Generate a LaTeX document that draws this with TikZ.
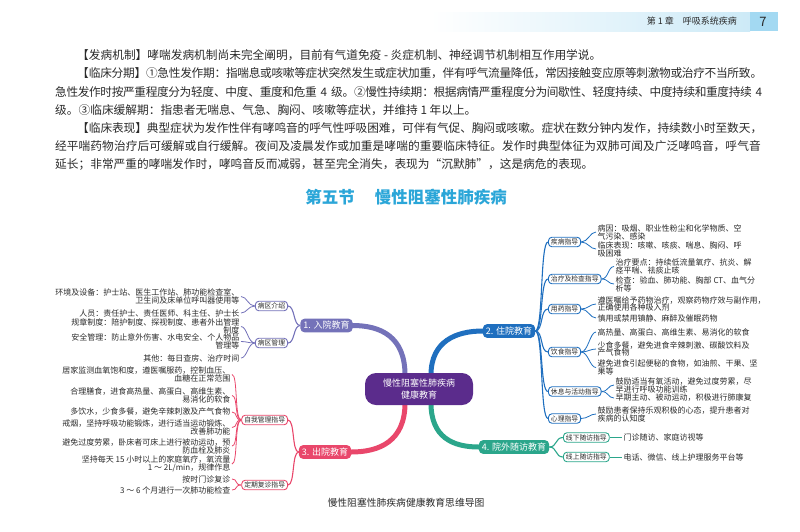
\documentclass[tikz,border=0pt]{standalone}
\usepackage{fontspec}
\setmainfont{Noto Sans CJK SC}
\usetikzlibrary{calc,backgrounds}
\XeTeXlinebreaklocale "zh"
\XeTeXlinebreakskip=0pt plus 1pt minus 0.5pt
\definecolor{cPur}{HTML}{5B2C8C}
\definecolor{cBa}{HTML}{7472B9}
\definecolor{cBb}{HTML}{1F6FBF}
\definecolor{cBc}{HTML}{E9476B}
\definecolor{cBd}{HTML}{2BA68B}
\definecolor{cTitle}{HTML}{2BA6D8}
\definecolor{cText}{HTML}{2A2A2A}
\definecolor{cHead}{HTML}{CDEAF7}
\definecolor{cPage}{HTML}{A3D9F2}
\newcommand\bodyfont{\fontsize{11.7}{14}\selectfont}
\newcommand\leaffont{\fontsize{8}{7.9}\selectfont}
\tikzset{
  bodyline/.style={anchor=west, inner sep=0pt, font=\bodyfont, text=cText},
  branchbox/.style={rounded corners=4pt, fill=#1, text=white, font=\fontsize{9}{10}\selectfont, inner xsep=3pt, inner ysep=2.6pt},
  subbox/.style={rounded corners=3.5pt, draw=#1, line width=0.9pt, fill=white, text=cText, font=\fontsize{6.8}{7}\selectfont, inner xsep=2.5pt, inner ysep=1.6pt},
  leafL/.style={anchor=east, align=right, inner xsep=1.5pt, inner ysep=0.5pt, font=\leaffont, text=cText},
  leafR/.style={anchor=west, align=left, inner xsep=1.5pt, inner ysep=0.5pt, font=\leaffont, text=cText},
  bconn/.style={line width=5pt, draw=#1, line cap=round},
  sconn/.style={line width=1.1pt, draw=#1},
  lconn/.style={line width=0.8pt, draw=#1}
}
\begin{document}
\begin{tikzpicture}[x=1pt,y=-1pt]
\useasboundingbox (0,0) rectangle (800,531);
% header
\shade[left color=white, right color=cHead] (430,12) rectangle (750,31);
\fill[cPage] (750,12) rectangle (778,31);
\node[anchor=east, font=\fontsize{9}{10}\selectfont, text=cText, inner sep=0] (hdr) at (737,21.5) {第 1 章\quad 呼吸系统疾病};
\node[font=\fontsize{13}{14}\selectfont, text=cText, inner sep=0] (pg) at (763,21.5) {7};
% body text
\node[bodyline] (t1) at (77,55.4) {【发病机制】哮喘发病机制尚未完全阐明，目前有气道免疫 - 炎症机制、神经调节机制相互作用学说。};
\node[bodyline, text width=685pt] (t2) at (77,73.6) {\noindent\parfillskip=0pt【临床分期】①急性发作期：指喘息或咳嗽等症状突然发生或症状加重，伴有呼气流量降低，常因接触变应原等刺激物或治疗不当所致。\par};
\node[bodyline, text width=707pt] (t3) at (55,91.8) {\noindent\parfillskip=0pt 急性发作时按严重程度分为轻度、中度、重度和危重 4 级。②慢性持续期：根据病情严重程度分为间歇性、轻度持续、中度持续和重度持续 4\par};
\node[bodyline] (t4) at (55,110) {级。③临床缓解期：指患者无喘息、气急、胸闷、咳嗽等症状，并维持 1 年以上。};
\node[bodyline, text width=685pt] (t5) at (77,128.2) {\noindent\parfillskip=0pt【临床表现】典型症状为发作性伴有哮鸣音的呼气性呼吸困难，可伴有气促、胸闷或咳嗽。症状在数分钟内发作，持续数小时至数天，\par};
\node[bodyline, text width=707pt] (t6) at (55,146.4) {\noindent\parfillskip=0pt 经平喘药物治疗后可缓解或自行缓解。夜间及凌晨发作或加重是哮喘的重要临床特征。发作时典型体征为双肺可闻及广泛哮鸣音，呼气音\par};
\node[bodyline] (t7) at (55,164.6) {延长；非常严重的哮喘发作时，哮鸣音反而减弱，甚至完全消失，表现为“沉默肺”，这是病危的表现。};
% title
\node[font=\fontsize{16.5}{18}\selectfont\bfseries, text=cTitle] (title) at (406,197) {第五节\hspace{20pt}慢性阻塞性肺疾病};
% center and branches
\node[fill=cPur, rounded corners=11pt, text=white, minimum width=108pt, minimum height=32pt, align=center, font=\fontsize{9}{12}\selectfont, inner sep=2pt] (C) at (419,389) {慢性阻塞性肺疾病\\健康教育};
\node[branchbox=cBa] (b1) at (326.5,325.5) {1. 入院教育};
\node[branchbox=cBb] (b2) at (509,331) {2. 住院教育};
\node[branchbox=cBc] (b3) at (325,452) {3. 出院教育};
\node[branchbox=cBd] (b4) at (514,447) {4. 院外随访教育};
% sub nodes
\node[subbox=cBa, anchor=east] (s11) at (288,306) {病区介绍};
\node[subbox=cBa, anchor=east] (s12) at (288,343) {病区管理};
\node[subbox=cBb, anchor=west] (s21) at (548,242) {疾病指导};
\node[subbox=cBb, anchor=west] (s22) at (548,279) {治疗及检查指导};
\node[subbox=cBb, anchor=west] (s23) at (548,309) {用药指导};
\node[subbox=cBb, anchor=west] (s24) at (548,352) {饮食指导};
\node[subbox=cBb, anchor=west] (s25) at (548,391.5) {休息与活动指导};
\node[subbox=cBb, anchor=west] (s26) at (548,418.5) {心理指导};
\node[subbox=cBc, anchor=east] (s31) at (288,420) {自我管理指导};
\node[subbox=cBc, anchor=east] (s32) at (288,485) {定期复诊指导};
\node[subbox=cBd, anchor=west] (s41) at (563,437.5) {线下随访指导};
\node[subbox=cBd, anchor=west] (s42) at (563,457) {线上随访指导};
% leaves branch 1
\node[leafL] (l11) at (241,296.5) {环境及设备：护士站、医生工作站、肺功能检查室、\\卫生间及床单位呼叫器使用等};
\node[leafL] (l12) at (241,313) {人员：责任护士、责任医师、科主任、护士长};
\node[leafL] (l13) at (241,326.5) {规章制度：陪护制度、探视制度、患者外出管理\\制度};
\node[leafL] (l14) at (241,341.5) {安全管理：防止意外伤害、水电安全、个人物品\\管理等};
\node[leafL] (l15) at (241,358) {其他：每日查房、治疗时间};
% leaves branch 2
\node[leafR] (l21) at (596,232) {病因：吸烟、职业性粉尘和化学物质、空\\气污染、感染};
\node[leafR] (l22) at (596,249) {临床表现：咳嗽、咳痰、喘息、胸闷、呼\\吸困难};
\node[leafR] (l23) at (614,266.5) {治疗要点：持续低流量氧疗、抗炎、解\\痉平喘、祛痰止咳};
\node[leafR] (l24) at (614,284) {检查：验血、肺功能、胸部 CT、血气分\\析等};
\node[leafR] (l25) at (596,304) {遵医嘱给予药物治疗，观察药物疗效与副作用，\\正确使用各种吸入剂};
\node[leafR] (l26) at (596,318) {慎用或禁用镇静、麻醉及催眠药物};
\node[leafR] (l27) at (596,332) {高热量、高蛋白、高维生素、易消化的软食};
\node[leafR] (l28) at (596,349) {少食多餐，避免进食辛辣刺激、碳酸饮料及\\产气食物};
\node[leafR] (l29) at (596,367.5) {避免进食引起便秘的食物，如油煎、干果、坚\\果等};
\node[leafR] (l2a) at (614,385) {鼓励适当有氧活动，避免过度劳累，尽\\早进行呼吸功能训练};
\node[leafR] (l2b) at (614,398) {早期主动、被动运动，积极进行肺康复};
\node[leafR] (l2c) at (596,414) {鼓励患者保持乐观积极的心态，提升患者对\\疾病的认知度};
% leaves branch 3
\node[leafL] (l31) at (232,374.5) {居家监测血氧饱和度，遵医嘱服药，控制血压、\\血糖在正常范围};
\node[leafL] (l32) at (232,395.5) {合理膳食，进食高热量、高蛋白、高维生素、\\易消化的软食};
\node[leafL] (l33) at (232,412) {多饮水，少食多餐，避免辛辣刺激及产气食物};
\node[leafL] (l34) at (232,427.5) {戒烟，坚持呼吸功能锻炼，进行适当运动锻炼、\\改善肺功能};
\node[leafL] (l35) at (232,446) {避免过度劳累，卧床者可床上进行被动运动，预\\防血栓及肺炎};
\node[leafL] (l36) at (232,464) {坚持每天 15 小时以上的家庭氧疗，氧流量\\1 ～ 2L/min，规律作息};
\node[leafL] (l37) at (232,479) {按时门诊复诊};
\node[leafL] (l38) at (232,490) {3 ～ 6 个月进行一次肺功能检查};
% leaves branch 4
\node[leafR] (l41) at (622,437.5) {门诊随访、家庭访视等};
\node[leafR] (l42) at (622,457) {电话、微信、线上护理服务平台等};
% caption
\node[font=\fontsize{9.8}{11}\selectfont, text=cText] (cap) at (406,503) {慢性阻塞性肺疾病健康教育思维导图};
% connectors
\begin{pgfonlayer}{background}
\draw[bconn=cBa] ($(C.north)+(-14,2)$) .. controls +(0,-38) and +(28,0) .. (b1.east);
\draw[bconn=cBb] ($(C.north)+(12,2)$) .. controls +(0,-34) and +(-26,0) .. (b2.west);
\draw[bconn=cBc] ($(C.south)+(-14,-2)$) .. controls +(0,38) and +(28,0) .. (b3.east);
\draw[bconn=cBd] ($(C.south)+(12,-2)$) .. controls +(0,34) and +(-26,0) .. (b4.west);
\foreach \s in {s11,s12} \draw[sconn=cBa] (b1.west) .. controls +(-7,0) and +(7,0) .. (\s.east);
\foreach \s in {s21,s22,s23,s24,s25,s26} \draw[sconn=cBb] (b2.east) .. controls +(8,0) and +(-8,0) .. (\s.west);
\foreach \s in {s31,s32} \draw[sconn=cBc] (b3.west) .. controls +(-7,0) and +(7,0) .. (\s.east);
\foreach \s in {s41,s42} \draw[sconn=cBd] (b4.east) .. controls +(8,0) and +(-8,0) .. (\s.west);
\foreach \l in {l11,l12} \draw[lconn=cBa] (s11.west) .. controls +(-7,0) and +(6,0) .. (\l.east);
\foreach \l in {l13,l14,l15} \draw[lconn=cBa] (s12.west) .. controls +(-7,0) and +(6,0) .. (\l.east);
\foreach \l in {l21,l22} \draw[lconn=cBb] (s21.east) .. controls +(7,0) and +(-6,0) .. (\l.west);
\foreach \l in {l23,l24} \draw[lconn=cBb] (s22.east) .. controls +(7,0) and +(-6,0) .. (\l.west);
\foreach \l in {l25,l26} \draw[lconn=cBb] (s23.east) .. controls +(7,0) and +(-6,0) .. (\l.west);
\foreach \l in {l27,l28,l29} \draw[lconn=cBb] (s24.east) .. controls +(7,0) and +(-6,0) .. (\l.west);
\foreach \l in {l2a,l2b} \draw[lconn=cBb] (s25.east) .. controls +(7,0) and +(-6,0) .. (\l.west);
\draw[lconn=cBb] (s26.east) .. controls +(7,0) and +(-6,0) .. (l2c.west);
\foreach \l in {l31,l32,l33,l34,l35,l36} \draw[lconn=cBc] (s31.west) .. controls +(-7,0) and +(6,0) .. (\l.east);
\foreach \l in {l37,l38} \draw[lconn=cBc] (s32.west) .. controls +(-7,0) and +(6,0) .. (\l.east);
\draw[lconn=cBd] (s41.east) -- (l41.west);
\draw[lconn=cBd] (s42.east) -- (l42.west);
\end{pgfonlayer}
\end{tikzpicture}
\end{document}
